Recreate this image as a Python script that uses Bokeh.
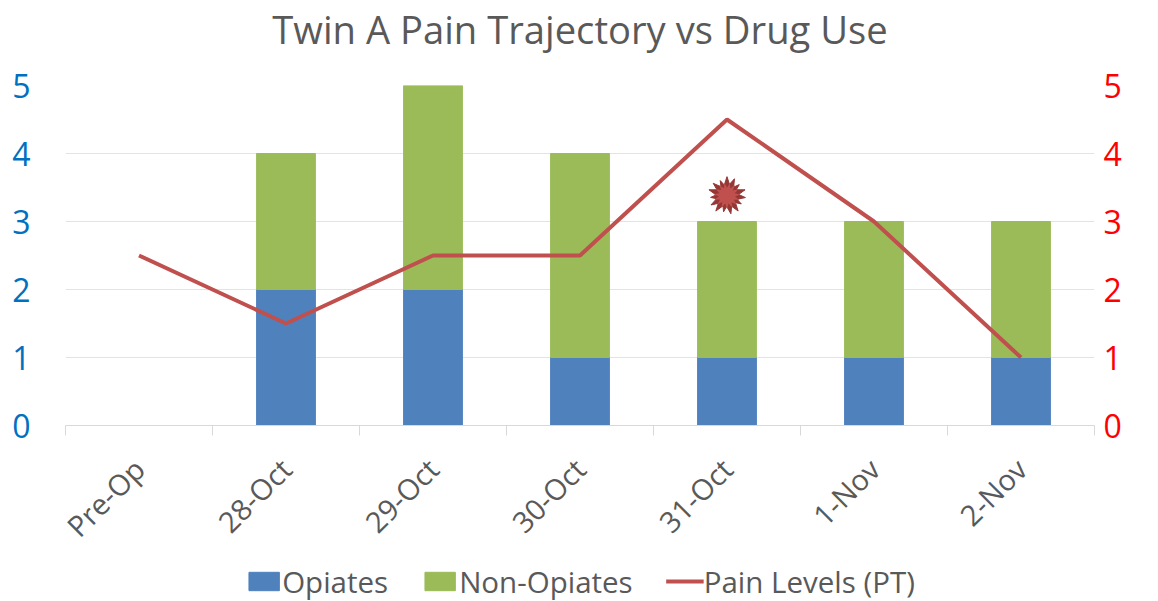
from bokeh.plotting import figure
from bokeh.layouts import column
from bokeh.models import Range1d, LinearAxis, FixedTicker, Legend, LegendItem, ColumnDataSource, Grid, Title
from bokeh.embed import file_html
from bokeh.resources import INLINE
import math

TITLE = "Twin A Pain Trajectory vs Drug Use"
categories = ["Pre-Op", "28-Oct", "29-Oct", "30-Oct", "31-Oct", "1-Nov", "2-Nov"]
opiates = [0, 2, 2, 1, 1, 1, 1]
non_opiates = [0, 2, 3, 3, 2, 2, 2]
pain_levels = [2.5, 1.5, 2.5, 2.5, 4.5, 3, 1]
event_category = 4
event_level = 3.38

FONT = "Open Sans"
GREY = "#595959"
RULE = "#D9D9D9"
BLUE = "#4F81BD"
GREEN = "#9BBB59"
RED = "#C0504D"
DARK_RED = "#953735"

xs = list(range(len(categories)))
src = ColumnDataSource(dict(x=xs, opiates=opiates, non_opiates=non_opiates, pain=pain_levels))

p = figure(width=1158, height=561, output_backend="svg", toolbar_location=None,
           x_range=Range1d(-0.5, len(categories) - 0.5), y_range=Range1d(0, 5),
           min_border_left=65, min_border_right=64, min_border_top=85, min_border_bottom=136,
           x_axis_type=None, y_axis_type=None)
p.extra_y_ranges = {"pain": Range1d(0, 5)}
p.outline_line_color = None
p.background_fill_color = "white"
p.border_fill_color = "white"

p.title = None
p.add_layout(Title(text=" ", text_font_size="1px", standoff=28), "above")
p.add_layout(Title(text=TITLE, align="center", text_font=FONT, text_font_size="38.2px",
                   text_font_style="normal", text_color=GREY, standoff=0), "above")

xax = LinearAxis(ticker=FixedTicker(ticks=xs, minor_ticks=[i - 0.5 for i in range(len(categories) + 1)]))
xax.major_label_overrides = {i: c for i, c in enumerate(categories)}
xax.major_label_orientation = math.pi / 4
xax.major_label_text_font = FONT
xax.major_label_text_font_size = "29px"
xax.major_label_text_color = GREY
xax.major_label_standoff = 28
xax.major_tick_in = 0
xax.major_tick_out = 0
xax.minor_tick_in = 0
xax.minor_tick_out = 10
xax.minor_tick_line_color = RULE
xax.axis_line_color = RULE
p.add_layout(xax, "below")

yticks = FixedTicker(ticks=[0, 1, 2, 3, 4, 5], minor_ticks=[])
def style_y(ax, color, standoff):
    ax.major_label_text_font = FONT
    ax.major_label_text_font_size = "32px"
    ax.major_label_text_color = color
    ax.major_label_standoff = standoff
    ax.major_tick_in = 0
    ax.major_tick_out = 0
    ax.major_tick_line_color = None
    ax.minor_tick_line_color = None
    ax.axis_line_color = None

yl = LinearAxis(ticker=yticks)
style_y(yl, "#0070C0", 35)
p.add_layout(yl, "left")
yr = LinearAxis(ticker=yticks, y_range_name="pain")
style_y(yr, "#FF0000", 9)
p.add_layout(yr, "right")

p.add_layout(Grid(dimension=1, ticker=yticks, grid_line_color="#E3E3E3", grid_line_width=1))

p.vbar(x="x", bottom=0, top="opiates", width=0.4, color=BLUE, source=src)
tops = [a + b for a, b in zip(opiates, non_opiates)]
p.vbar(x=xs, bottom=opiates, top=tops, width=0.4, color=GREEN)
p.line("x", "pain", line_color=RED, line_width=4, source=src, y_range_name="pain")

for a, s in ((0, 38), (0.42, 33), (0.84, 37)):
    p.scatter([event_category], [event_level], marker="star", size=s, angle=a,
              fill_color=DARK_RED, line_color=DARK_RED, line_width=1, y_range_name="pain")
for a in (0.2, 0.62, 1.04):
    p.scatter([event_category], [event_level], marker="star", size=26, angle=a,
              fill_color=RED, line_color=None, y_range_name="pain")

# The legend sits in a strip of its own under the chart; its key glyphs lie outside the strip's range.
lf = figure(width=1158, height=40, output_backend="svg", toolbar_location=None,
            x_axis_type=None, y_axis_type=None, x_range=Range1d(0, 1), y_range=Range1d(0, 1),
            min_border=0)
lf.outline_line_color = None
lf.grid.visible = False
r1 = lf.vbar(x=[-9], bottom=[-9], top=[-8], width=0.4, color=BLUE)
r2 = lf.vbar(x=[-9], bottom=[-9], top=[-8], width=0.4, color=GREEN)
r3 = lf.line(x=[-9, -8], y=[-9, -9], line_color=RED, line_width=4)
legend = Legend(items=[LegendItem(label="Opiates", renderers=[r1]),
                       LegendItem(label="Non-Opiates", renderers=[r2]),
                       LegendItem(label="Pain Levels (PT)", renderers=[r3])],
                orientation="horizontal", location="center",
                background_fill_alpha=0, border_line_color=None,
                label_text_font=FONT, label_text_font_size="29.5px", label_text_color=GREY,
                glyph_width=38, glyph_height=23, label_standoff=0, spacing=33,
                padding=0, margin=0)
lf.add_layout(legend, "center")

open("out.html", "w").write(file_html(column(p, lf, spacing=0), INLINE))
